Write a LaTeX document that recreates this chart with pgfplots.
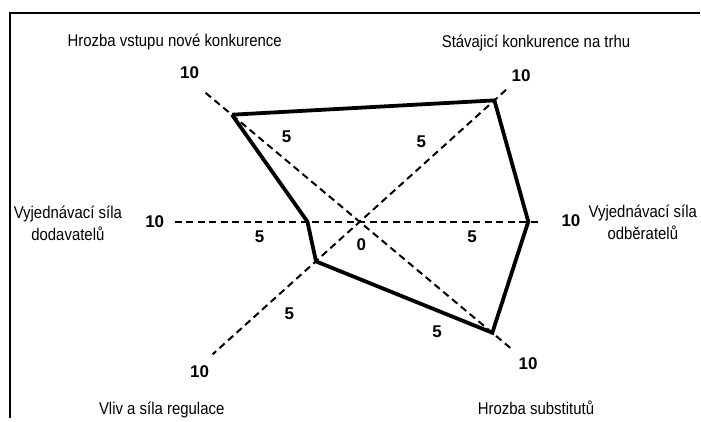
\documentclass[border=0pt]{standalone}
\usepackage{fontspec}
\setmainfont{Liberation Sans}
\newfontfamily\narrowfont[FakeStretch=0.88]{Liberation Sans}
\usepackage{pgfplots}
\pgfplotsset{compat=1.18}
\usepackage{pgfplotstable}

% spoke direction (pixel offset of value 10 from centre) and value
\pgfplotstableread{
dx dy val
-155 -129 8.3
146 -132 9.2
179 0 9.4
152 128 8.7
-148 133 3.0
-186 0 2.85
-155 -129 8.3
}\polydata

\begin{document}
\begin{tikzpicture}
\begin{axis}[
  width=701pt, height=419pt, scale only axis,
  xmin=0, xmax=701, ymin=0, ymax=419, y dir=reverse,
  hide axis, clip=false,
]
\path (axis cs:0,0) rectangle (axis cs:701,419);
% frame
\draw[line width=2.6pt] (axis cs:10,419) -- (axis cs:10,13) -- (axis cs:701,13);
% spokes
\addplot[black, line width=2pt, dash pattern=on 7pt off 4.5pt] coordinates {(206,93) (513,350)};
\addplot[black, line width=2pt, dash pattern=on 7pt off 4.5pt] coordinates {(507,90) (213,355)};
\addplot[black, line width=2pt, dash pattern=on 7pt off 4.5pt] coordinates {(175,222) (540,222)};
% profile
\addplot[black, line width=3.8pt, line join=miter] table[
  x expr=361+\thisrow{dx}*\thisrow{val}/10,
  y expr=222+\thisrow{dy}*\thisrow{val}/10] {\polydata};
% scale labels
\begin{scope}[every node/.style={font=\fontsize{17}{17}\selectfont\bfseries}]
\node at (axis cs:190,73) {10};
\node at (axis cs:287,137) {5};
\node at (axis cs:522,76) {10};
\node at (axis cs:422,142) {5};
\node at (axis cs:572,221) {10};
\node at (axis cs:473,237) {5};
\node at (axis cs:529,364) {10};
\node at (axis cs:438,332) {5};
\node at (axis cs:200,372) {10};
\node at (axis cs:290,314) {5};
\node at (axis cs:155,222) {10};
\node at (axis cs:260,237) {5};
\node at (axis cs:362,245) {0};
\end{scope}
% category labels
\begin{scope}[every node/.style={font=\narrowfont\fontsize{17}{22}\selectfont, align=center}]
\node at (axis cs:175,42) {Hrozba vstupu nové konkurence};
\node at (axis cs:537,43) {Stávajicí konkurence na trhu};
\node at (axis cs:68,224) {Vyjednávací síla\\dodavatelů};
\node at (axis cs:644,223) {Vyjednávací síla\\odběratelů};
\node at (axis cs:162,411) {Vliv a síla regulace};
\node at (axis cs:537,408) {Hrozba substitutů};
\end{scope}
\end{axis}
\end{tikzpicture}
\end{document}
